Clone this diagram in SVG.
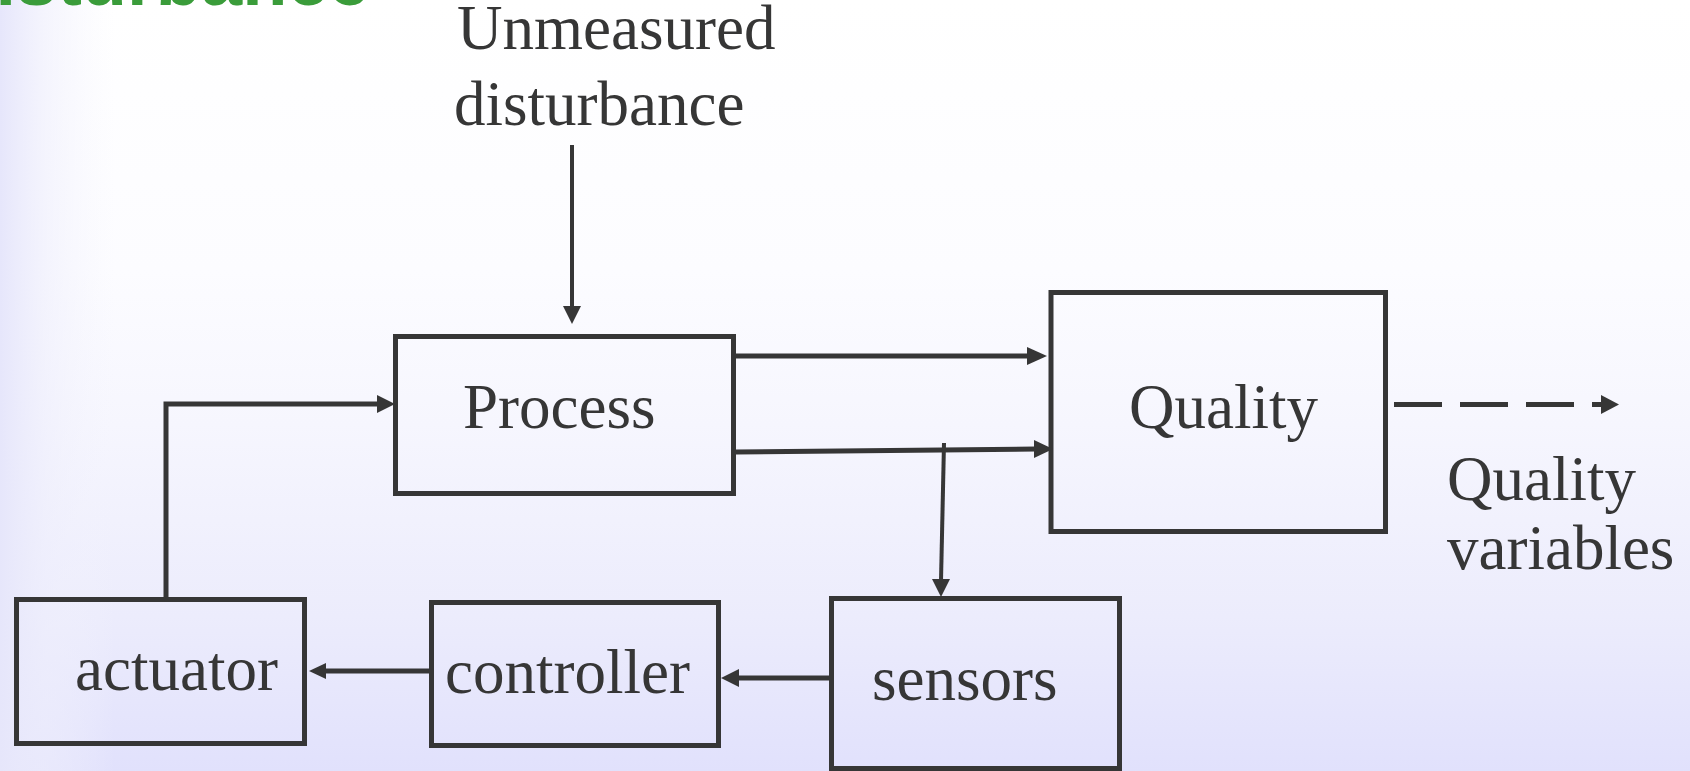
<svg xmlns="http://www.w3.org/2000/svg" width="1690" height="771" viewBox="0 0 1690 771">
  <defs>
    <linearGradient id="bgV" x1="0" y1="0" x2="0" y2="1">
      <stop offset="0" stop-color="#ffffff"/>
      <stop offset="0.35" stop-color="#fcfcff"/>
      <stop offset="0.55" stop-color="#f6f6fe"/>
      <stop offset="0.8" stop-color="#ececfc"/>
      <stop offset="1" stop-color="#e1e1fc"/>
    </linearGradient>
    <linearGradient id="bgH" x1="0" y1="0" x2="1" y2="0">
      <stop offset="0" stop-color="#e6e6fb" stop-opacity="1"/>
      <stop offset="0.4" stop-color="#eeeefc" stop-opacity="0.6"/>
      <stop offset="1" stop-color="#f4f4fd" stop-opacity="0"/>
    </linearGradient>
    <style>
      .box { fill: none; stroke: #363636; stroke-width: 5; }
      .lbl { font-family: "Liberation Serif", "Times New Roman", serif; font-size: 63px; fill: #363636; }
      .wire { fill: none; stroke: #363636; stroke-width: 5; }
      .thin { stroke-width: 4; }
      .head { fill: #363636; stroke: none; }
      .title { font-family: "Liberation Sans", Arial, sans-serif; font-weight: bold; font-size: 74px; fill: #3a9c3a; }
    </style>
  </defs>

  <!-- background -->
  <rect x="0" y="0" width="1690" height="771" fill="url(#bgV)"/>
  <rect x="0" y="0" width="115" height="771" fill="url(#bgH)"/>

  <!-- heading, mostly above the top edge -->
  <text class="title" x="-58" y="5">Disturbance</text>

  <!-- free labels -->
  <g id="label-disturbance">
    <text class="lbl" x="457" y="49">Unmeasured</text>
    <text class="lbl" x="454" y="125">disturbance</text>
  </g>
  <g id="label-quality-variables">
    <text class="lbl" x="1447" y="500">Quality</text>
    <text class="lbl" x="1447" y="569">variables</text>
  </g>

  <!-- nodes -->
  <g id="process">
    <rect class="box" x="395.5" y="336.5" width="338" height="157"/>
    <text class="lbl" x="463" y="428">Process</text>
  </g>
  <g id="quality">
    <rect class="box" x="1051" y="292.5" width="334.5" height="239"/>
    <text class="lbl" x="1129" y="428">Quality</text>
  </g>
  <g id="actuator">
    <rect class="box" x="16.5" y="599.5" width="288" height="144"/>
    <text class="lbl" x="75" y="690">actuator</text>
  </g>
  <g id="controller">
    <rect class="box" x="431.5" y="602.5" width="287" height="143"/>
    <text class="lbl" x="445" y="693">controller</text>
  </g>
  <g id="sensors">
    <rect class="box" x="831.5" y="598.5" width="288" height="170"/>
    <text class="lbl" x="872" y="700">sensors</text>
  </g>

  <!-- connectors -->
  <g id="connectors">
    <!-- disturbance into process -->
    <line class="wire thin" x1="572" y1="145" x2="572" y2="308"/>
    <polygon class="head" points="563,306 581,306 572,324"/>

    <!-- actuator to process -->
    <polyline class="wire" points="166,597 166,404 379,404"/>
    <polygon class="head" points="377,395 377,413 395,404"/>

    <!-- process to quality (upper) -->
    <line class="wire" x1="736" y1="356" x2="1029" y2="356"/>
    <polygon class="head" points="1027,347 1027,365 1047,356"/>

    <!-- process to quality (lower) -->
    <line class="wire" x1="736" y1="452" x2="1036" y2="449"/>
    <polygon class="head" points="1034,440 1034,458 1053,449"/>

    <!-- measurement tap down to sensors -->
    <line class="wire thin" x1="944" y1="443" x2="941" y2="581"/>
    <polygon class="head" points="932,579 950,579 941,597"/>

    <!-- sensors to controller -->
    <line class="wire" x1="829" y1="678" x2="737" y2="678"/>
    <polygon class="head" points="739,669 739,687 721,678"/>

    <!-- controller to actuator -->
    <line class="wire" x1="429" y1="671" x2="324" y2="671"/>
    <polygon class="head" points="326,663 326,679 309,671"/>

    <!-- quality output (dashed) -->
    <line class="wire" x1="1394" y1="404.5" x2="1604" y2="404.5" stroke-dasharray="48 18" stroke-width="5.5"/>
    <polygon class="head" points="1601,395 1601,414 1619,404.5"/>
  </g>
</svg>
